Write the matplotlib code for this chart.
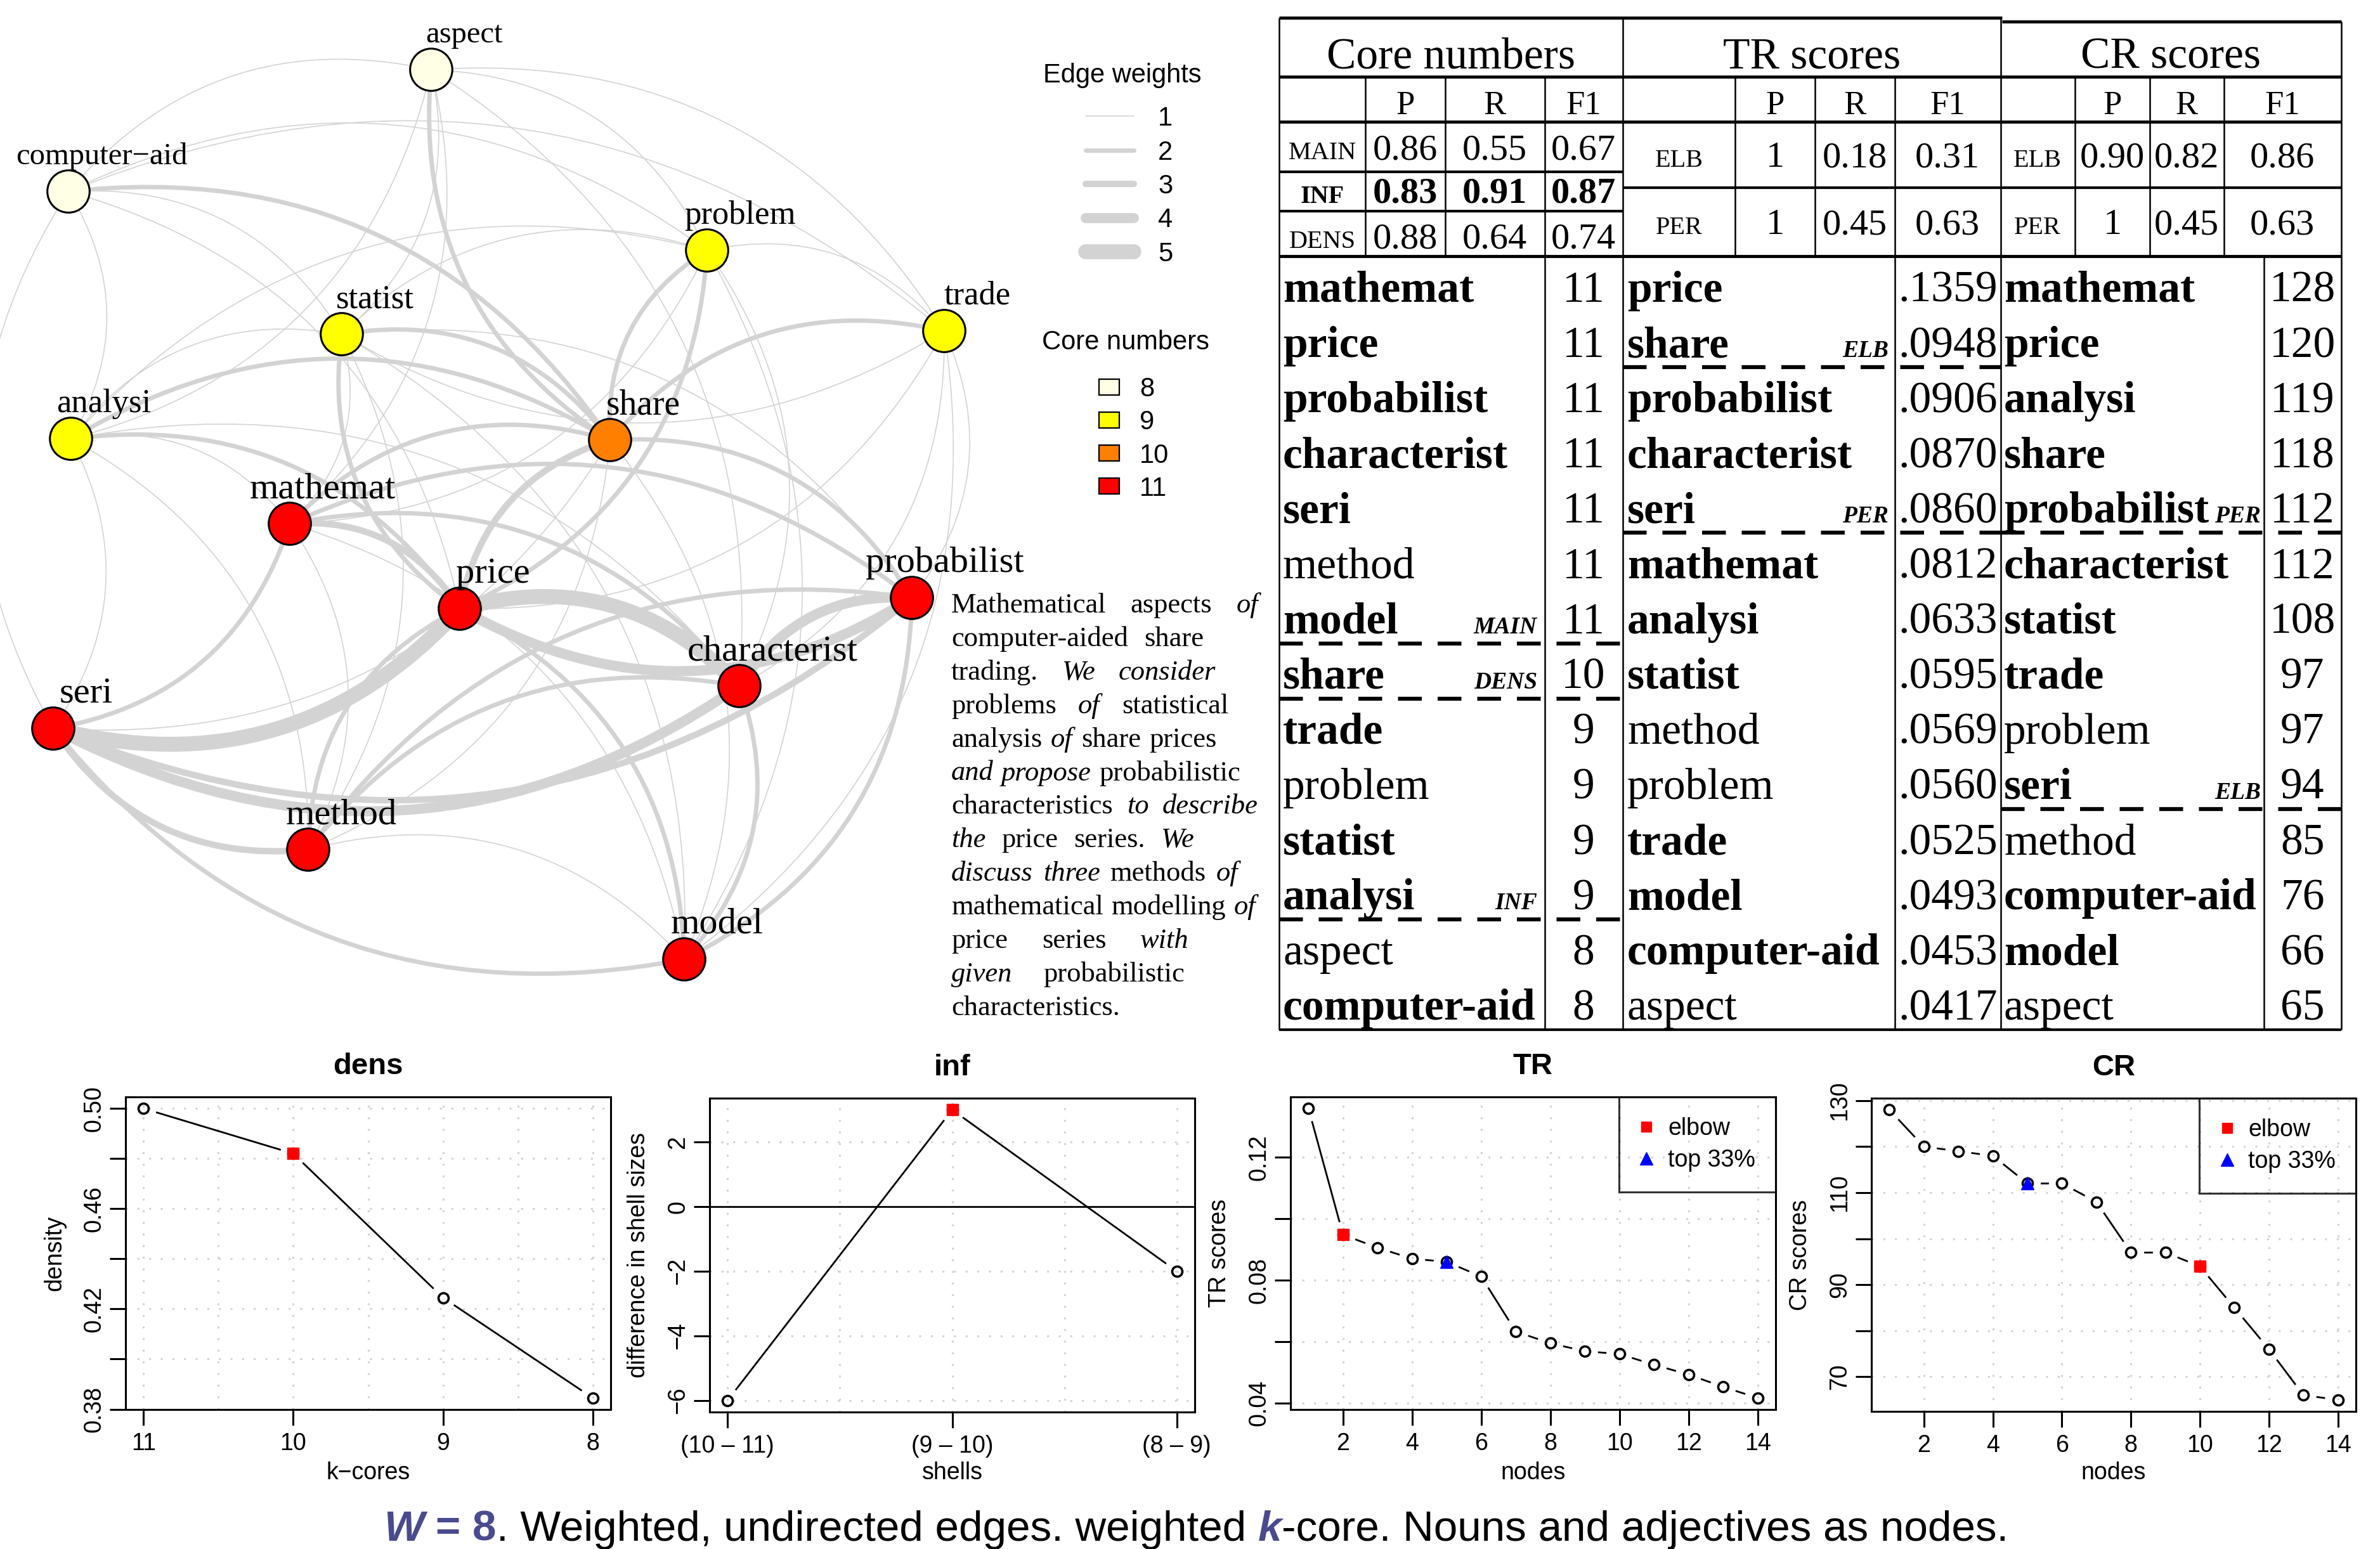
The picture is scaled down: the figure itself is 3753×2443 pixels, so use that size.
import numpy as np
import matplotlib
matplotlib.use("Agg")
import matplotlib.pyplot as plt
from matplotlib.path import Path
from matplotlib.patches import PathPatch, Rectangle
from matplotlib.lines import Line2D

W_PX, H_PX = 3753, 2443
SERIF = ["Liberation Serif", "DejaVu Serif"]
SANS = ["Liberation Sans", "DejaVu Sans"]
plt.rcParams["font.family"] = SANS
EDGE_C = "#D3D3D3"
CAP_BLUE = "#4A4A8F"

# ---------------- graph data ----------------
nodes = ["aspect", "computer-aid", "problem", "trade", "statist", "analysi", "share",
         "mathemat", "probabilist", "price", "characterist", "seri", "method", "model"]
node_core = [8, 8, 9, 9, 9, 9, 10, 11, 11, 11, 11, 11, 11, 11]
# layout as drawn (graph panel units)
node_x = [680, 108, 1115, 1489, 539, 112, 962, 457, 1438, 725, 1166, 84, 486, 1079]
node_y = [110, 302, 395, 522, 527, 692, 694, 826, 943, 960, 1082, 1149, 1340, 1513]

edges = [
    ("price", "seri", 5), ("price", "characterist", 5),
    ("probabilist", "price", 4), ("characterist", "seri", 4), ("characterist", "probabilist", 4),
    ("probabilist", "seri", 3), ("mathemat", "price", 3), ("method", "seri", 3), ("price", "share", 3),
    ("share", "aspect", 2), ("computer-aid", "share", 2), ("analysi", "share", 2), ("analysi", "price", 2),
    ("price", "statist", 2), ("statist", "share", 2), ("share", "problem", 2), ("problem", "price", 2),
    ("mathemat", "seri", 2), ("model", "seri", 2), ("method", "price", 2), ("characterist", "model", 2),
    ("probabilist", "model", 2), ("price", "model", 2), ("mathemat", "share", 2),
    ("mathemat", "characterist", 2), ("mathemat", "probabilist", 2), ("method", "probabilist", 2),
    ("method", "characterist", 2), ("share", "trade", 2), ("share", "probabilist", 2),
    ("computer-aid", "aspect", 1), ("aspect", "problem", 1), ("aspect", "trade", 1), ("aspect", "statist", 1),
    ("aspect", "analysi", 1), ("aspect", "mathemat", 1), ("aspect", "characterist", 1),
    ("computer-aid", "analysi", 1), ("computer-aid", "statist", 1), ("computer-aid", "problem", 1),
    ("computer-aid", "trade", 1), ("seri", "computer-aid", 1), ("computer-aid", "price", 1),
    ("problem", "trade", 1), ("statist", "problem", 1), ("analysi", "problem", 1), ("problem", "mathemat", 1),
    ("problem", "characterist", 1), ("problem", "model", 1), ("trade", "statist", 1),
    ("trade", "probabilist", 1), ("trade", "characterist", 1), ("trade", "model", 1),
    ("analysi", "statist", 1), ("statist", "mathemat", 1), ("statist", "method", 1), ("statist", "model", 1),
    ("statist", "probabilist", 1), ("analysi", "seri", 1), ("analysi", "mathemat", 1),
    ("analysi", "method", 1), ("analysi", "characterist", 1), ("mathemat", "method", 1),
    ("method", "model", 1), ("share", "seri", 1), ("share", "method", 1), ("share", "model", 1),
    ("mathemat", "model", 1), ("trade", "price", 1),
]
core_levels = [8, 9, 10, 11]
core_colors = ["#FFFFE6", "#FFFF00", "#FF8000", "#FF0000"]
weight_levels = [1, 2, 3, 4, 5]

# ---------------- abstract ----------------
abs_lines = [
    [("Mathematical", 0), ("aspects", 0), ("of", 1)],
    [("computer-aided", 0), ("share", 0)],
    [("trading.", 0), ("We", 1), ("consider", 1)],
    [("problems", 0), ("of", 1), ("statistical", 0)],
    [("analysis", 0), ("of", 1), ("share", 0), ("prices", 0)],
    [("and", 1), ("propose", 1), ("probabilistic", 0)],
    [("characteristics", 0), ("to", 1), ("describe", 1)],
    [("the", 1), ("price", 0), ("series.", 0), ("We", 1)],
    [("discuss", 1), ("three", 1), ("methods", 0), ("of", 1)],
    [("mathematical", 0), ("modelling", 0), ("of", 1)],
    [("price", 0), ("series", 0), ("with", 1)],
    [("given", 1), ("probabilistic", 0)],
    [("characteristics.", 0)],
]
abs_right = [1984, 1898, 1917, 1937, 1919, 1956, 1984, 1883, 1952, 1980, 1875, 1868, None]

# ---------------- table data ----------------
keywords = {"mathemat", "price", "probabilist", "characterist", "seri", "model", "share",
            "trade", "statist", "analysi", "computer-aid"}
core_names = ["mathemat", "price", "probabilist", "characterist", "seri", "method", "model",
              "share", "trade", "problem", "statist", "analysi", "aspect", "computer-aid"]
core_vals = [11, 11, 11, 11, 11, 11, 11, 10, 9, 9, 9, 9, 8, 8]
core_cuts = [(6, "MAIN"), (7, "DENS"), (11, "INF")]
tr_names = ["price", "share", "probabilist", "characterist", "seri", "mathemat", "analysi",
            "statist", "method", "problem", "trade", "model", "computer-aid", "aspect"]
tr_vals = [.1359, .0948, .0906, .0870, .0860, .0812, .0633, .0595, .0569, .0560, .0525, .0493, .0453, .0417]
tr_cuts = [(1, "ELB"), (4, "PER")]
cr_names = ["mathemat", "price", "analysi", "share", "probabilist", "characterist", "statist",
            "trade", "problem", "seri", "method", "computer-aid", "model", "aspect"]
cr_vals = [128, 120, 119, 118, 112, 112, 108, 97, 97, 94, 85, 76, 66, 65]
cr_cuts = [(4, "PER"), (9, "ELB")]

core_methods = ["MAIN", "INF", "DENS"]
core_prf = [(0.86, 0.55, 0.67), (0.83, 0.91, 0.87), (0.88, 0.64, 0.74)]
tr_methods = ["ELB", "PER"]
tr_prf = [(1, 0.18, 0.31), (1, 0.45, 0.63)]
cr_methods = ["ELB", "PER"]
cr_prf = [(0.90, 0.82, 0.86), (1, 0.45, 0.63)]

# ---------------- plot data ----------------
dens_k = ["11", "10", "9", "8"]
dens_val = [0.500, 0.482, 0.4245, 0.3845]
dens_best = 1
inf_shells = ["(10 \u2013 11)", "(9 \u2013 10)", "(8 \u2013 9)"]
inf_diff = [-6, 3, -2]
inf_best = 1
tr_elbow, tr_top = 1, 4
cr_elbow, cr_top = 9, 4


fig = plt.figure(figsize=(W_PX / 100, H_PX / 100), dpi=100)
bg = fig.add_axes([0, 0, 1, 1])
bg.set_xlim(0, W_PX)
bg.set_ylim(H_PX, 0)
bg.axis("off")
rend = fig.canvas.get_renderer()

# ---------------- graph ----------------
ew_lw = {1: 1.2, 2: 5.0, 3: 7.3, 4: 11.5, 5: 17.0}
pos = {n: (x, y) for n, x, y in zip(nodes, node_x, node_y)}
for a, b, w in sorted(edges, key=lambda e: e[2]):
    x0, y0 = pos[a]
    x1, y1 = pos[b]
    dx, dy = x1 - x0, y1 - y0
    cx = (x0 + x1) / 2 + 0.3 * dy
    cy = (y0 + y1) / 2 - 0.3 * dx
    p = Path([(x0, y0), (cx, cy), (x1, y1)], [Path.MOVETO, Path.CURVE3, Path.CURVE3])
    bg.add_patch(PathPatch(p, fc="none", ec=EDGE_C, lw=ew_lw[w], capstyle="round", zorder=1))

col_of = dict(zip(core_levels, core_colors))
bg.scatter(node_x, node_y, s=2300, c=[col_of[c] for c in node_core],
           edgecolors="black", linewidths=2.2, zorder=3)
lab_size = {8: 35, 9: 38, 10: 40, 11: 42}
for n, x, y, c in zip(nodes, node_x, node_y, node_core):
    bg.text(x + 52, y - 55, n.replace("-", "\u2212"), family=SERIF, fontsize=lab_size[c],
            ha="center", va="center", zorder=4)

# legends
bg.text(1770, 119, "Edge weights", fontsize=30, ha="center", va="center")
for i, w in enumerate(weight_levels):
    yy = 183 + 53.5 * i
    bg.add_line(Line2D([1712, 1788], [yy, yy], color=EDGE_C, lw=ew_lw[w], solid_capstyle="round"))
    bg.text(1826, yy + 15, str(w), fontsize=30, ha="left", va="baseline")
bg.text(1775, 540, "Core numbers", fontsize=30, ha="center", va="center")
for i, (lvl, col) in enumerate(zip(core_levels, core_colors)):
    yy = 610 + 52.3 * i
    bg.add_patch(Rectangle((1733, yy - 12.5), 32, 25, fc=col, ec="black", lw=1.6))
    bg.text(1797, yy + 15, str(lvl), fontsize=30, ha="left", va="baseline")

# abstract, justified word by word
for i, line in enumerate(abs_lines):
    y = 966 + 52.9 * i
    objs = [bg.text(0, y, w, family=SERIF, fontsize=32, style="italic" if it else "normal",
                    ha="left", va="baseline") for w, it in line]
    widths = [o.get_window_extent(rend).width for o in objs]
    if abs_right[i] is None or len(objs) == 1:
        gap = 11
    else:
        gap = (abs_right[i] - 1500 - sum(widths)) / (len(objs) - 1)
    x = 1500
    for o, w in zip(objs, widths):
        o.set_x(x)
        x += w + gap

# ---------------- table ----------------
def hl(y, x0, x1, lw=3.0, **kw):
    bg.add_line(Line2D([x0, x1], [y, y], color="black", lw=lw, solid_capstyle="butt", **kw))


def vl(x, y0, y1, lw=1.8):
    bg.add_line(Line2D([x, x], [y0, y1], color="black", lw=lw, solid_capstyle="butt"))


TL, TC1, TC2, TR_ = 2017, 2559, 3155, 3692
hl(28, TL, 3157, 3.5)
hl(34, 3157, TR_, 3.5)
hl(121, TL, TR_, 3.5)
hl(192, TL, TR_, 3.5)
hl(271, TL, TC1)
hl(333, TL, TC1)
hl(296, TC1, TR_)
hl(404, TL, TR_, 3.5)
hl(1624, TL, TR_)
vl(TL, 28, 1624)
vl(TC1, 28, 1624)
vl(TC2, 28, 1624)
vl(TR_, 34, 1624)
for x in [2153, 2279, 2736, 2862, 3272, 3390, 3507]:
    vl(x, 121, 404)
for x in [2436, 2988]:
    vl(x, 121, 1624)
vl(3570, 404, 1624)

for cx, s in [(2288, "Core numbers"), (2857, "TR scores"), (3423, "CR scores")]:
    bg.text(cx, 107, s, family=SERIF, fontsize=50, ha="center", va="baseline")
prf_x = [(2216, 2357, 2497), (2799, 2925, 3071), (3331, 3448, 3599)]
for xs in prf_x:
    for x, s in zip(xs, ["P", "R", "F1"]):
        bg.text(x, 180, s, family=SERIF, fontsize=38, ha="center", va="baseline")


def fmt(v):
    return "1" if v == 1 else "%.2f" % v


for m, vals, yb in zip(core_methods, core_prf, [251, 320, 391]):
    wt = "bold" if m == "INF" else "normal"
    bg.text(2085, yb, m, family=SERIF, fontsize=29, weight=wt, ha="center", va="baseline")
    for x, v in zip(prf_x[0], vals):
        bg.text(x, yb, fmt(v), family=SERIF, fontsize=42, weight=wt, ha="center", va="baseline")
for mlist, plist, xl, xs in [(tr_methods, tr_prf, 2648, prf_x[1]), (cr_methods, cr_prf, 3213, prf_x[2])]:
    for m, vals, yb in zip(mlist, plist, [263, 369]):
        bg.text(xl, yb, m, family=SERIF, fontsize=29, ha="center", va="baseline")
        for x, v in zip(xs, vals):
            bg.text(x, yb, fmt(v), family=SERIF, fontsize=42, ha="center", va="baseline")

ROW0, ROWH = 476, 87.1
for i in range(14):
    yb = ROW0 + ROWH * i
    for names, xn in [(core_names, 2023), (tr_names, 2566), (cr_names, 3160)]:
        bg.text(xn, yb, names[i], family=SERIF, fontsize=50,
                weight="bold" if names[i] in keywords else "normal", ha="left", va="baseline")
    bg.text(2497, yb, str(core_vals[i]), family=SERIF, fontsize=50, ha="center", va="baseline")
    bg.text(3150, yb, ("%.4f" % tr_vals[i])[1:], family=SERIF, fontsize=50, ha="right", va="baseline")
    bg.text(3631, yb, str(cr_vals[i]), family=SERIF, fontsize=50, ha="center", va="baseline")

for cuts, x0, x1, xr in [(core_cuts, TL, TC1, 2424), (tr_cuts, TC1, TC2, 2978), (cr_cuts, TC2, TR_, 3565)]:
    for i, lab in cuts:
        yb = ROW0 + ROWH * i
        bg.text(xr, yb, lab, family=SERIF, fontsize=27, weight="bold", style="italic",
                ha="right", va="baseline")
        bg.add_line(Line2D([x0, x1], [yb + 16, yb + 16], color="black", lw=4.5,
                           dashes=(6, 4), solid_capstyle="butt", dash_capstyle="butt"))

# ---------------- caption ----------------
cap_parts = [("W", "bold", "italic", CAP_BLUE, False), ("= 8", "bold", "normal", CAP_BLUE, True),
             (". Weighted, undirected edges. weighted", "normal", "normal", "black", False),
             ("k", "bold", "italic", CAP_BLUE, True),
             ("-core. Nouns and adjectives as nodes.", "normal", "normal", "black", False)]
CAP_FS = 48.5
t1 = bg.text(0, 0, "a a", fontsize=CAP_FS)
t2 = bg.text(0, 0, "aa", fontsize=CAP_FS)
sp = t1.get_window_extent(rend).width - t2.get_window_extent(rend).width
t1.remove()
t2.remove()
objs, widths = [], []
for s, wt, st, col, space in cap_parts:
    o = bg.text(0, 2430, s, fontsize=CAP_FS, weight=wt, style=st, color=col, ha="left", va="baseline")
    objs.append(o)
    widths.append(o.get_window_extent(rend).width)
total = sum(widths) + sp * sum(p[4] for p in cap_parts)
x = 1886 - total / 2
for o, w, p in zip(objs, widths, cap_parts):
    if p[4]:
        x += sp
    o.set_x(x)
    x += w

# ---------------- bottom plots ----------------
def r_lim(v):
    lo, hi = min(v), max(v)
    d = (hi - lo) * 0.04
    return lo - d, hi + d


def r_axes(box):
    l, t, r, b = box
    ax = fig.add_axes([l / W_PX, 1 - b / H_PX, (r - l) / W_PX, (b - t) / H_PX])
    for s in ax.spines.values():
        s.set_linewidth(2.2)
    ax.tick_params(direction="out", length=18, width=2.2, labelsize=27, pad=8)
    ax.tick_params(axis="y", pad=5)
    return ax


def r_grid(ax, xs, ys):
    for gx in xs:
        ax.axvline(gx, color=EDGE_C, lw=2.2, ls=(0, (1, 5)), zorder=0)
    for gy in ys:
        ax.axhline(gy, color=EDGE_C, lw=2.2, ls=(0, (1, 5)), zorder=0)


def plot_b(ax, x, y, gap=22):
    ax.plot(x, y, "o", mfc="none", mec="black", ms=11.5, mew=2.6, zorder=3)
    pts = ax.transData.transform(np.column_stack([x, y]))
    inv = ax.transData.inverted()
    for p, q in zip(pts[:-1], pts[1:]):
        d = q - p
        L = np.hypot(*d)
        if L <= 2 * gap:
            continue
        u = d / L
        a = inv.transform(p + u * gap)
        b = inv.transform(q - u * gap)
        ax.plot([a[0], b[0]], [a[1], b[1]], color="black", lw=2, zorder=2)


def labels(box, title, xlab, ylab):
    l, t, r, b = box
    bg.text((l + r) / 2, t - 36, title, fontsize=34, weight="bold", ha="center", va="baseline")
    bg.text((l + r) / 2, 2333, xlab, fontsize=27, ha="center", va="baseline")
    bg.text(l - 112, (t + b) / 2, ylab, fontsize=27, rotation=90, ha="center", va="center")


def r_legend(ax):
    h1 = Line2D([], [], marker="s", color="red", ls="none", ms=12)
    h2 = Line2D([], [], marker="^", color="blue", ls="none", ms=14)
    leg = ax.legend([h1, h2], ["elbow", "top 33%"], loc="upper right", fontsize=27, frameon=True,
                    fancybox=False, edgecolor="black", facecolor="none", framealpha=None,
                    handlelength=0.6, handletextpad=0.6, borderpad=0.85, labelspacing=0.38,
                    borderaxespad=0)
    leg.get_frame().set_linewidth(2.2)


# dens
box = (198, 1730, 963, 2223)
ax = r_axes(box)
xi = np.arange(1, len(dens_val) + 1)
ax.set_xlim(r_lim(xi))
ax.set_ylim(r_lim(dens_val))
ax.set_xticks(xi, dens_k)
yt = np.arange(0.38, 0.501, 0.02)
ax.set_yticks(yt, ["%.2f" % v if k % 2 == 0 else "" for k, v in enumerate(yt)], rotation=90, va="center")
r_grid(ax, np.arange(1, 4.01, 0.5), yt)
plot_b(ax, xi, dens_val)
ax.plot(xi[dens_best], dens_val[dens_best], "s", color="red", ms=12.5, zorder=4)
labels(box, "dens", "k\u2212cores", "density")

# inf
box = (1119, 1732, 1884, 2227)
ax = r_axes(box)
xi = np.arange(1, len(inf_diff) + 1)
ax.set_xlim(r_lim(xi))
ax.set_ylim(r_lim(inf_diff))
ax.set_xticks(xi, inf_shells)
yt = np.arange(-6, 2.1, 2)
ax.set_yticks(yt, ["%d" % v if v >= 0 else "\u2212%d" % -v for v in yt], rotation=90, va="center")
r_grid(ax, np.arange(1, 3.01, 0.5), yt)
ax.axhline(0, color="black", lw=2, zorder=1)
plot_b(ax, xi, inf_diff)
ax.plot(xi[inf_best], inf_diff[inf_best], "s", color="red", ms=12.5, zorder=4)
labels(box, "inf", "shells", "difference in shell sizes")

# TR
box = (2035, 1730, 2800, 2223)
ax = r_axes(box)
xi = np.arange(1, len(tr_vals) + 1)
ax.set_xlim(r_lim(xi))
ax.set_ylim(r_lim(tr_vals))
ax.set_xticks(np.arange(2, 15, 2))
yt = np.arange(0.04, 0.121, 0.02)
ax.set_yticks(yt, ["%.2f" % v if k % 2 == 0 else "" for k, v in enumerate(yt)], rotation=90, va="center")
r_grid(ax, np.arange(2, 15, 2), yt)
plot_b(ax, xi, tr_vals)
ax.plot(xi[tr_elbow], tr_vals[tr_elbow], "s", color="red", ms=12.5, zorder=4)
ax.plot(xi[tr_top], tr_vals[tr_top], "^", color="blue", ms=14, zorder=4)
r_legend(ax)
labels(box, "TR", "nodes", "TR scores")

# CR
box = (2951, 1732, 3715, 2226)
ax = r_axes(box)
xi = np.arange(1, len(cr_vals) + 1)
ax.set_xlim(r_lim(xi))
ax.set_ylim(r_lim(cr_vals))
ax.set_xticks(np.arange(2, 15, 2))
yt = np.arange(70, 131, 10)
ax.set_yticks(yt, ["%d" % v if k % 2 == 0 else "" for k, v in enumerate(yt)], rotation=90, va="center")
r_grid(ax, np.arange(2, 15, 2), yt)
plot_b(ax, xi, cr_vals)
ax.plot(xi[cr_elbow], cr_vals[cr_elbow], "s", color="red", ms=12.5, zorder=4)
ax.plot(xi[cr_top], cr_vals[cr_top], "^", color="blue", ms=14, zorder=4)
r_legend(ax)
labels(box, "CR", "nodes", "CR scores")

fig.savefig("out.png", dpi=100)
